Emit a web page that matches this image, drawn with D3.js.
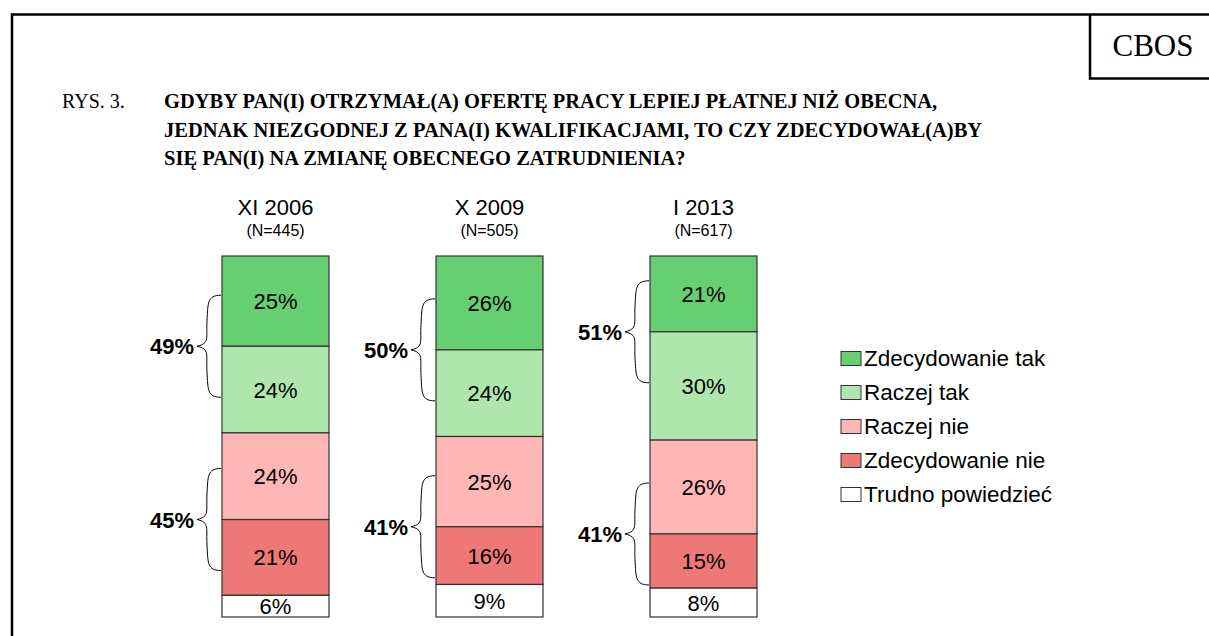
<!DOCTYPE html>
<html>
<head>
<meta charset="utf-8">
<script src="https://cdn.jsdelivr.net/npm/d3@7"></script>
<style>
  body { margin: 0; background: #fff; }
  svg { display: block; }
</style>
</head>
<body>
<svg id="chart" width="1209" height="636"></svg>
<script>
// waves and sample sizes
const waves = ['XI 2006', 'X 2009', 'I 2013']
const sampleSizes = ['(N=445)', '(N=505)', '(N=617)']

// answer categories, top to bottom in each bar
const categories = ['Zdecydowanie tak', 'Raczej tak', 'Raczej nie', 'Zdecydowanie nie', 'Trudno powiedzieć']
const colors = ['#66cf72', '#aee6ae', '#ffb6b6', '#ee7777', '#ffffff']

// values in %
const zdecydowanieTak = [25, 26, 21]
const raczejTak = [24, 24, 30]
const raczejNie = [24, 25, 26]
const zdecydowanieNie = [21, 16, 15]
const trudnoPowiedziec = [6, 9, 8]

// summed labels on braces
const yesTotals = [49, 50, 51]
const noTotals = [45, 41, 41]

const titleLines = [
    'GDYBY PAN(I) OTRZYMAŁ(A) OFERTĘ PRACY LEPIEJ PŁATNEJ NIŻ OBECNA,',
    'JEDNAK NIEZGODNEJ Z PANA(I) KWALIFIKACJAMI, TO CZY ZDECYDOWAŁ(A)BY',
    'SIĘ PAN(I) NA ZMIANĘ OBECNEGO ZATRUDNIENIA?'
]

function main() {
    let svg = d3.select('#chart'),
        sans = 'Liberation Sans, Arial, sans-serif',
        serif = 'Liberation Serif, Times New Roman, serif'

    let series = [zdecydowanieTak, raczejTak, raczejNie, zdecydowanieNie, trudnoPowiedziec]
    let table = waves.map((w, i) => {
        let row = {wave: w}
        categories.forEach((c, j) => row[c] = series[j][i])
        return row
    })
    let stacked = d3.stack().keys(categories)(table)

    let xScale = d3.scaleBand().domain(waves).range([115, 864]).padding(0.5)
    let yScale = d3.scaleLinear().domain([0, 100]).range([256, 617])
    let color = d3.scaleOrdinal().domain(categories).range(colors)

    // frame
    svg.append('path')
        .attr('d', 'M12,636 L12,14.5 L1209,14.5 M1090,14.5 L1090,78.5 L1209,78.5')
        .attr('fill', 'none')
        .attr('stroke', '#000')
        .attr('stroke-width', 2.5)

    svg.append('text')
        .attr('x', 1153)
        .attr('y', 56)
        .attr('text-anchor', 'middle')
        .attr('font-family', serif)
        .attr('font-size', 31)
        .text('CBOS')

    // title
    svg.append('text')
        .attr('x', 62)
        .attr('y', 108)
        .attr('font-family', serif)
        .attr('font-size', 20)
        .text('RYS. 3.')

    svg.append('g').selectAll('text')
        .data(titleLines)
        .enter()
        .append('text')
        .attr('x', 164)
        .attr('y', (d, i) => 108 + i * 28.5)
        .attr('font-family', serif)
        .attr('font-weight', 'bold')
        .attr('font-size', 20.5)
        .text(d => d)

    // headers
    let head = svg.append('g')
    head.selectAll('.wave')
        .data(waves)
        .enter()
        .append('text')
        .attr('x', d => xScale(d) + xScale.bandwidth() / 2)
        .attr('y', 215)
        .attr('text-anchor', 'middle')
        .attr('font-family', sans)
        .attr('font-size', 22)
        .text(d => d)
    head.selectAll('.n')
        .data(sampleSizes)
        .enter()
        .append('text')
        .attr('x', (d, i) => xScale(waves[i]) + xScale.bandwidth() / 2)
        .attr('y', 236)
        .attr('text-anchor', 'middle')
        .attr('font-family', sans)
        .attr('font-size', 16)
        .text(d => d)

    // bars
    let layers = svg.append('g').selectAll('g')
        .data(stacked)
        .enter()
        .append('g')
        .attr('fill', d => color(d.key))

    layers.selectAll('rect')
        .data(d => d)
        .enter()
        .append('rect')
        .attr('x', d => xScale(d.data.wave))
        .attr('y', d => yScale(d[0]))
        .attr('width', xScale.bandwidth())
        .attr('height', d => yScale(d[1]) - yScale(d[0]))
        .attr('stroke', '#333')
        .attr('stroke-width', 1.2)

    layers.selectAll('text')
        .data(d => d)
        .enter()
        .append('text')
        .attr('x', d => xScale(d.data.wave) + xScale.bandwidth() / 2)
        .attr('y', d => (yScale(d[0]) + yScale(d[1])) / 2 + 8)
        .attr('text-anchor', 'middle')
        .attr('font-family', sans)
        .attr('font-size', 22)
        .attr('fill', '#000')
        .text(d => (d[1] - d[0]) + '%')

    // braces with totals
    function brace(x0, yM, half) {
        let xs = x0 - 14, xt = x0 - 24, yT = yM - half, yB = yM + half
        return 'M' + x0 + ',' + yT
            + ' C' + (x0 - 14) + ',' + yT + ' ' + (xs + 1) + ',' + (yT + 8) + ' ' + xs + ',' + (yT + half * 0.5)
            + ' S' + (xs + 3) + ',' + (yM - 3) + ' ' + xt + ',' + yM
            + ' M' + x0 + ',' + yB
            + ' C' + (x0 - 14) + ',' + yB + ' ' + (xs + 1) + ',' + (yB - 8) + ' ' + xs + ',' + (yB - half * 0.5)
            + ' S' + (xs + 3) + ',' + (yM + 3) + ' ' + xt + ',' + yM
    }

    let braceData = []
    waves.forEach((w, i) => {
        braceData.push({wave: w, y: yScale(zdecydowanieTak[i]), total: yesTotals[i]})
        braceData.push({wave: w, y: yScale(zdecydowanieTak[i] + raczejTak[i] + raczejNie[i]), total: noTotals[i]})
    })

    svg.append('g').selectAll('path')
        .data(braceData)
        .enter()
        .append('path')
        .attr('d', d => brace(xScale(d.wave) - 1, d.y, 51))
        .attr('fill', 'none')
        .attr('stroke', '#000')
        .attr('stroke-width', 1)

    svg.append('g').selectAll('text')
        .data(braceData)
        .enter()
        .append('text')
        .attr('x', d => xScale(d.wave) - 28)
        .attr('y', d => d.y + 8)
        .attr('text-anchor', 'end')
        .attr('font-family', sans)
        .attr('font-weight', 'bold')
        .attr('font-size', 22)
        .text(d => d.total + '%')

    // legend
    let legend = svg.append('g').selectAll('g')
        .data(categories)
        .enter()
        .append('g')
        .attr('transform', (d, i) => 'translate(841,' + (365.5 + i * 34) + ')')

    legend.append('rect')
        .attr('x', 0)
        .attr('y', -14)
        .attr('width', 20)
        .attr('height', 14)
        .attr('fill', d => color(d))
        .attr('stroke', '#333')
        .attr('stroke-width', 1)

    legend.append('text')
        .attr('x', 23)
        .attr('y', 0)
        .attr('font-family', sans)
        .attr('font-size', 22.5)
        .text(d => d)
}

main()
</script>
</body>
</html>
